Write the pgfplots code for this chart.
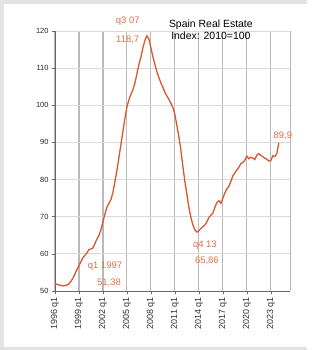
\documentclass[border=0pt]{standalone}
\usepackage{pgfplots}
\pgfplotsset{compat=1.18}
\usepackage{fontspec}
\setmainfont{Liberation Sans}
\definecolor{lineor}{RGB}{218,88,48}
\definecolor{labor}{RGB}{226,112,72}
\begin{document}
\begin{tikzpicture}
\fill[gray!22] (0bp,0bp) rectangle (307bp,350bp);
\fill[white] (4bp,3bp) rectangle (312bp,346bp);
\begin{axis}[
  at={(55bp,59bp)}, anchor=south west, scale only axis,
  width=235bp, height=260bp,
  xmin=1996, xmax=2025.4, ymin=50, ymax=120,
  axis x line*=bottom, axis y line*=left,
  axis line style={draw=gray!80!black, line width=0.8bp},
  tick align=outside, major tick length=3bp,
  tick style={gray!80!black, line width=0.6bp},
  xtick={1996,1999,2002,2005,2008,2011,2014,2017,2020,2023},
  xticklabels={1996 q1,1999 q1,2002 q1,2005 q1,2008 q1,2011 q1,2014 q1,2017 q1,2020 q1,2023 q1},
  xticklabel style={rotate=90, anchor=east, font=\fontsize{9}{10}\selectfont, text=black!80},
  ytick={50,60,...,120},
  yticklabel style={font=\fontsize{7.5}{8}\selectfont, text=black!85},
  /pgf/number format/assume math mode=true,
  xmajorgrids, ymajorgrids,
  x grid style={gray!55, line width=1.1bp},
  y grid style={gray!30, line width=0.8bp},
  clip=false,
]
\draw[gray!55, line width=1bp] (rel axis cs:1,0) -- (rel axis cs:1,1);
\addplot[lineor, line width=1.3bp, mark=none] table {
x y
1996.00 52.0
1996.25 51.8
1996.50 51.6
1996.75 51.5
1997.00 51.38
1997.25 51.5
1997.50 51.6
1997.75 51.9
1998.00 52.6
1998.25 53.5
1998.50 54.6
1998.75 55.8
1999.00 56.8
1999.25 57.9
1999.50 59.0
1999.75 59.6
2000.00 60.3
2000.25 61.2
2000.50 61.3
2000.75 61.6
2001.00 62.8
2001.25 64.0
2001.50 65.0
2001.75 66.5
2002.00 68.6
2002.25 70.8
2002.50 72.6
2002.75 73.6
2003.00 74.6
2003.25 76.6
2003.50 79.5
2003.75 82.5
2004.00 86.0
2004.25 89.5
2004.50 93.0
2004.75 96.5
2005.00 99.6
2005.25 101.5
2005.50 103.0
2005.75 104.2
2006.00 106.0
2006.25 108.5
2006.50 111.0
2006.75 113.0
2007.00 115.5
2007.25 117.5
2007.50 118.7
2007.75 117.8
2008.00 115.5
2008.25 113.0
2008.50 111.0
2008.75 109.0
2009.00 107.5
2009.25 106.0
2009.50 104.8
2009.75 103.5
2010.00 102.5
2010.25 101.6
2010.50 100.5
2010.75 99.4
2011.00 97.5
2011.25 94.5
2011.50 91.5
2011.75 88.0
2012.00 83.5
2012.25 79.5
2012.50 76.0
2012.75 72.5
2013.00 69.8
2013.25 67.8
2013.50 66.5
2013.75 65.86
2014.00 66.2
2014.25 66.8
2014.50 67.3
2014.75 67.8
2015.00 68.6
2015.25 69.8
2015.50 70.4
2015.75 71.0
2016.00 72.5
2016.25 73.8
2016.50 74.3
2016.75 73.6
2017.00 75.0
2017.25 76.4
2017.50 77.5
2017.75 78.2
2018.00 79.5
2018.25 81.0
2018.50 81.8
2018.75 82.6
2019.00 83.3
2019.25 84.3
2019.50 84.6
2019.75 85.2
2020.00 86.3
2020.25 85.6
2020.50 86.0
2020.75 85.8
2021.00 85.4
2021.25 86.6
2021.50 87.0
2021.75 86.5
2022.00 86.2
2022.25 85.7
2022.50 85.5
2022.75 85.0
2023.00 85.1
2023.25 86.4
2023.50 86.2
2023.75 87.0
2024.00 89.9
};
\node[labor, font=\fontsize{9.5}{10}\selectfont] at (axis cs:2005.1,122.7) {q3 07};
\node[labor, font=\fontsize{9.5}{10}\selectfont] at (axis cs:2005.1,117.6) {118,7};
\node[black, font=\fontsize{10.5}{11}\selectfont] at (axis cs:2015.5,121.8) {Spain Real Estate};
\node[black, font=\fontsize{10.5}{11}\selectfont] at (axis cs:2015.5,118.7) {Index: 2010=100};
\node[labor, font=\fontsize{9.5}{10}\selectfont] at (axis cs:2024.5,91.7) {89,9};
\node[labor, font=\fontsize{9.5}{10}\selectfont] at (axis cs:2002.25,56.7) {q1 1997};
\node[labor, font=\fontsize{9.5}{10}\selectfont] at (axis cs:2002.75,52.15) {51,38};
\node[labor, font=\fontsize{9.5}{10}\selectfont] at (axis cs:2014.75,62.4) {q4 13};
\node[labor, font=\fontsize{9.5}{10}\selectfont] at (axis cs:2015,58.1) {65,86};
\end{axis}
\end{tikzpicture}
\end{document}
